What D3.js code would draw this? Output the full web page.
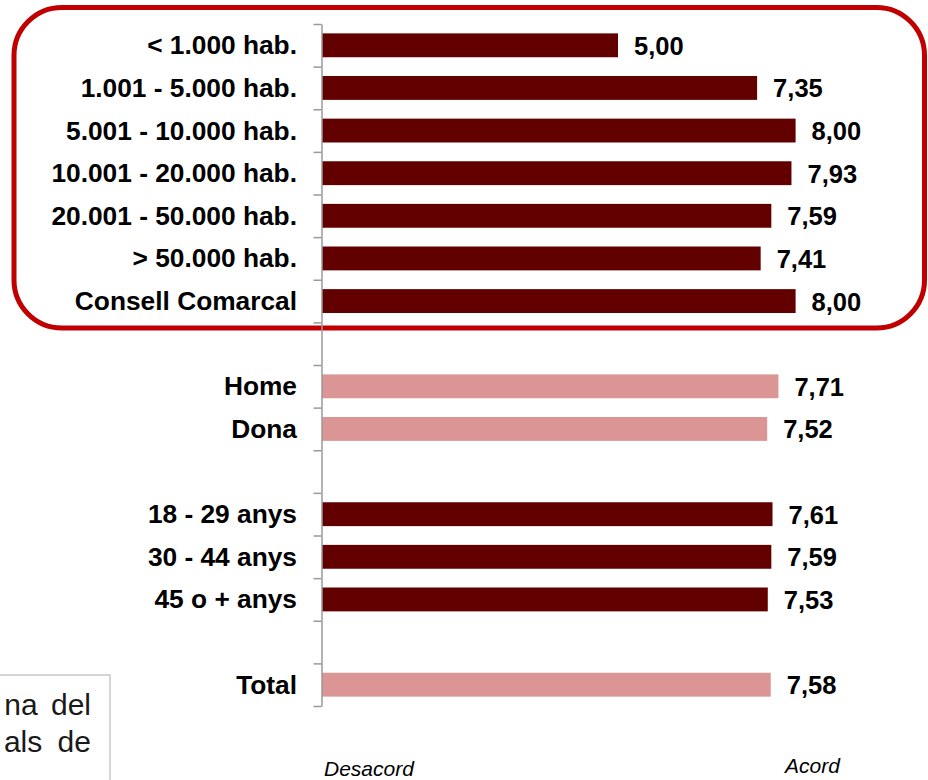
<!DOCTYPE html>
<html>
<head>
<meta charset="utf-8">
<script src="https://cdn.jsdelivr.net/npm/d3@7"></script>
<style>
  html, body { margin: 0; padding: 0; background: #ffffff; }
  svg { display: block; }
</style>
</head>
<body>
<svg id="chart" width="928" height="780"></svg>
<script>
// ---- data ----
const municipalityLabels = ["< 1.000 hab.", "1.001 - 5.000 hab.", "5.001 - 10.000 hab.", "10.001 - 20.000 hab.", "20.001 - 50.000 hab.", "> 50.000 hab.", "Consell Comarcal"];
const municipalityValues = [5.00, 7.35, 8.00, 7.93, 7.59, 7.41, 8.00];
const genderLabels = ["Home", "Dona"];
const genderValues = [7.71, 7.52];
const ageLabels = ["18 - 29 anys", "30 - 44 anys", "45 o + anys"];
const ageValues = [7.61, 7.59, 7.53];
const totalLabels = ["Total"];
const totalValues = [7.58];
const axisEndLabels = ["Desacord", "Acord"];
const noteLines = ["na del", "als de"];

// ---- build rows (with spacer rows between groups) ----
const DARK = "#620000", LIGHT = "#db9594";
const groups = [
  { labels: municipalityLabels, values: municipalityValues, color: DARK },
  { labels: genderLabels, values: genderValues, color: LIGHT },
  { labels: ageLabels, values: ageValues, color: DARK },
  { labels: totalLabels, values: totalValues, color: LIGHT }
];
const rows = [];
groups.forEach((g, gi) => {
  if (gi > 0) rows.push({ label: null, value: null, color: null });
  g.labels.forEach((l, i) => rows.push({ label: l, value: g.values[i], color: g.color }));
});
rows.forEach((r, i) => r.idx = i);

const svg = d3.select("#chart");
const FONT = "'Liberation Sans', Arial, Helvetica, sans-serif";

// ---- scales ----
const x = d3.scaleLinear().domain([0, 10]).range([322, 914]);
const y = d3.scaleBand().domain(rows.map(r => r.idx)).range([24, 706]).paddingInner(0.44).paddingOuter(0.22);
const yb = d3.scaleLinear().domain([0, rows.length]).range([24, 706]);
const fmt = v => d3.format(".2f")(v).replace(".", ",");

// ---- red rounded highlight box ----
svg.append("rect")
  .attr("x", 14).attr("y", 7.5)
  .attr("width", 910.5).attr("height", 320.5)
  .attr("rx", 48).attr("ry", 48)
  .attr("fill", "none").attr("stroke", "#c00000").attr("stroke-width", 5);

// ---- bottom-left partial note box ----
svg.append("rect")
  .attr("x", -20).attr("y", 675)
  .attr("width", 130).attr("height", 140)
  .attr("fill", "#ffffff").attr("stroke", "#c8c8c8").attr("stroke-width", 1.5);
const noteSpacing = [5, 7];
svg.append("g").selectAll("text").data(noteLines).join("text")
  .attr("x", 91).attr("y", (d, i) => 715 + i * 37)
  .attr("text-anchor", "end")
  .attr("word-spacing", (d, i) => noteSpacing[i])
  .attr("font-family", FONT).attr("font-size", 30).attr("fill", "#1a1a1a")
  .text(d => d);

// ---- bars ----
const data = rows.filter(r => r.value !== null);
svg.append("g").selectAll("rect").data(data).join("rect")
  .attr("x", x(0))
  .attr("y", d => y(d.idx))
  .attr("width", d => x(d.value) - x(0))
  .attr("height", y.bandwidth())
  .attr("fill", d => d.color);

// ---- axis ----
const axis = svg.append("g").attr("transform", "translate(321.5,0)")
  .call(d3.axisLeft(yb).tickValues(d3.range(rows.length + 1)).tickSize(8).tickSizeOuter(0).tickFormat(""));
axis.selectAll("path, line").attr("stroke", "#9a9a9a").attr("stroke-width", 1.5);

// ---- category labels ----
svg.append("g").selectAll("text").data(data).join("text")
  .attr("x", 297)
  .attr("y", d => y(d.idx) + y.bandwidth() / 2 + 9)
  .attr("text-anchor", "end")
  .attr("font-family", FONT).attr("font-weight", "bold").attr("font-size", 26.3)
  .attr("fill", "#000")
  .text(d => d.label);

// ---- value labels ----
svg.append("g").selectAll("text").data(data).join("text")
  .attr("x", d => x(d.value) + 16)
  .attr("y", d => y(d.idx) + y.bandwidth() / 2 + 9.5)
  .attr("font-family", FONT).attr("font-weight", "bold").attr("font-size", 25.5)
  .attr("fill", "#000")
  .text(d => fmt(d.value));

// ---- axis end labels ----
svg.append("text").attr("x", 324).attr("y", 776)
  .attr("font-family", FONT).attr("font-style", "italic").attr("font-size", 21).attr("fill", "#000")
  .text(axisEndLabels[0]);
svg.append("text").attr("x", 785).attr("y", 773)
  .attr("font-family", FONT).attr("font-style", "italic").attr("font-size", 21).attr("fill", "#000")
  .text(axisEndLabels[1]);
</script>
</body>
</html>
